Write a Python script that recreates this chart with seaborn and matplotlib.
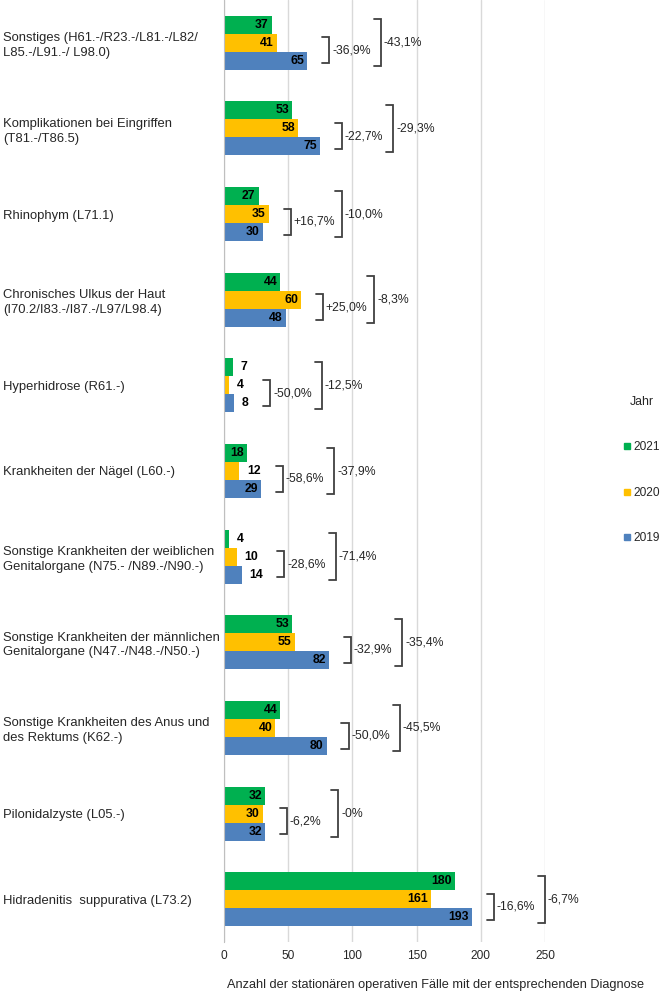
import pandas as pd
import matplotlib.pyplot as plt
import seaborn as sns
from matplotlib.lines import Line2D

# ------------------------------
# Data
# ------------------------------
categories = [
    "Sonstiges (H61.-/R23.-/L81.-/L82/\nL85.-/L91.-/ L98.0)",
    "Komplikationen bei Eingriffen\n(T81.-/T86.5)",
    "Rhinophym (L71.1)",
    "Chronisches Ulkus der Haut\n(I70.2/I83.-/I87.-/L97/L98.4)",
    "Hyperhidrose (R61.-)",
    "Krankheiten der Nägel (L60.-)",
    "Sonstige Krankheiten der weiblichen\nGenitalorgane (N75.- /N89.-/N90.-)",
    "Sonstige Krankheiten der männlichen\nGenitalorgane (N47.-/N48.-/N50.-)",
    "Sonstige Krankheiten des Anus und\ndes Rektums (K62.-)",
    "Pilonidalzyste (L05.-)",
    "Hidradenitis  suppurativa (L73.2)",
]
years = ["2021", "2020", "2019"]
cases_2021 = [37, 53, 27, 44, 7, 18, 4, 53, 44, 32, 180]
cases_2020 = [41, 58, 35, 60, 4, 12, 10, 55, 40, 30, 161]
cases_2019 = [65, 75, 30, 48, 8, 29, 14, 82, 80, 32, 193]

# change 2020 vs 2019 (inner bracket) and 2021 vs 2019 (outer bracket)
change_2020 = ["-36,9%", "-22,7%", "+16,7%", "+25,0%", "-50,0%", "-58,6%",
               "-28,6%", "-32,9%", "-50,0%", "-6,2%", "-16,6%"]
change_2021 = ["-43,1%", "-29,3%", "-10,0%", "-8,3%", "-12,5%", "-37,9%",
               "-71,4%", "-35,4%", "-45,5%", "-0%", "-6,7%"]

x_ticks = [0, 50, 100, 150, 200, 250]
x_title = "Anzahl der stationären operativen Fälle mit der entsprechenden Diagnose"

colors = {"2021": "#00B050", "2020": "#FFC000", "2019": "#4F81BD"}

df = pd.DataFrame({
    "Diagnose": categories * 3,
    "Jahr": ["2021"] * 11 + ["2020"] * 11 + ["2019"] * 11,
    "Faelle": cases_2021 + cases_2020 + cases_2019,
})

# ------------------------------
# Style
# ------------------------------
sns.set_style("whitegrid")
plt.rcParams["font.family"] = ["Liberation Sans", "DejaVu Sans"]
text_color = "#262626"
bracket_color = "#404040"

fig = plt.figure(figsize=(6.61, 9.92), dpi=100)
ax = fig.add_axes([224 / 661, 1 - 942 / 992, 321 / 661, 942 / 992])

sns.barplot(data=df, y="Diagnose", x="Faelle", hue="Jahr", order=categories,
            hue_order=years, palette=colors, width=0.63, saturation=1,
            linewidth=0, legend=False, ax=ax)

ax.set_xlim(0, 250)
ax.set_ylim(len(categories) - 0.5, -0.5)
ax.set_xticks(x_ticks)
ax.set_xlabel("")
ax.set_ylabel("")
ax.grid(axis="y", visible=False)
ax.grid(axis="x", color="#D9D9D9", linewidth=1)
for side in ["top", "right", "bottom"]:
    ax.spines[side].set_visible(False)
ax.spines["left"].set_color("#BFBFBF")
ax.tick_params(axis="x", length=0, pad=6, labelsize=8.6, labelcolor=text_color)
ax.tick_params(axis="y", length=0, pad=159, labelsize=9.4, labelcolor=text_color)
for lbl in ax.get_yticklabels():
    lbl.set_ha("left")
    lbl.set_linespacing(1.3)

# ------------------------------
# Value labels
# ------------------------------
SMALL = 15
def label_end(v):
    # small bars carry their label outside the bar
    if v < SMALL:
        return v + 6 + 5 * len(str(v))
    return v

for cont in ax.containers:
    for bar in cont:
        v = int(round(bar.get_width()))
        yc = bar.get_y() + bar.get_height() / 2
        if v < SMALL:
            ax.annotate(str(v), (v, yc), xytext=(5.5, 0), textcoords="offset points",
                        ha="left", va="center", fontsize=8.8, fontweight="bold",
                        color="black")
        else:
            ax.annotate(str(v), (v, yc), xytext=(-2.2, 0), textcoords="offset points",
                        ha="right", va="center", fontsize=8.8, fontweight="bold",
                        color="black")

# ------------------------------
# Brackets with percentage change
# ------------------------------
bars21, bars20, bars19 = ax.containers
tick = 5.5

def bracket(x, y0, y1, text):
    ax.plot([x - tick, x, x, x - tick], [y0, y0, y1, y1], color=bracket_color,
            linewidth=1.3, clip_on=False, solid_joinstyle="miter")
    ax.annotate(text, (x, (y0 + y1) / 2), xytext=(2, 0), textcoords="offset points",
                ha="left", va="center", fontsize=8.8, color=text_color,
                annotation_clip=False)

for i in range(len(categories)):
    b21, b20, b19 = bars21[i], bars20[i], bars19[i]
    h = b19.get_height()
    c21 = b21.get_y() + h / 2
    c20 = b20.get_y() + h / 2
    c19 = b19.get_y() + h / 2
    x_in = max(label_end(cases_2020[i]), label_end(cases_2019[i])) + 17
    x_out = x_in + 40
    bracket(x_in, c20 - 0.3 * h, c19 + 0.15 * h, change_2020[i])
    bracket(x_out, c21 - 0.3 * h, c19 + 0.3 * h, change_2021[i])

# ------------------------------
# Legend and axis title
# ------------------------------
handles = [Line2D([], [], marker="s", linestyle="", color=colors[y], markersize=4.5)
           for y in years]
leg = fig.legend(handles, years, title="Jahr", loc="upper left",
                 bbox_to_anchor=(623 / 661, 1 - 396 / 992), frameon=False,
                 fontsize=8.6, title_fontsize=8.8, labelspacing=2.8,
                 handlelength=0.6, handletextpad=0.3, borderpad=0,
                 borderaxespad=0)
for t in leg.get_texts():
    t.set_color(text_color)
leg.get_title().set_color(text_color)

fig.text(436 / 661, 1 - 985 / 992, x_title, ha="center", va="center",
         fontsize=9.2, color=text_color)

plt.savefig("out.png", dpi=100)
